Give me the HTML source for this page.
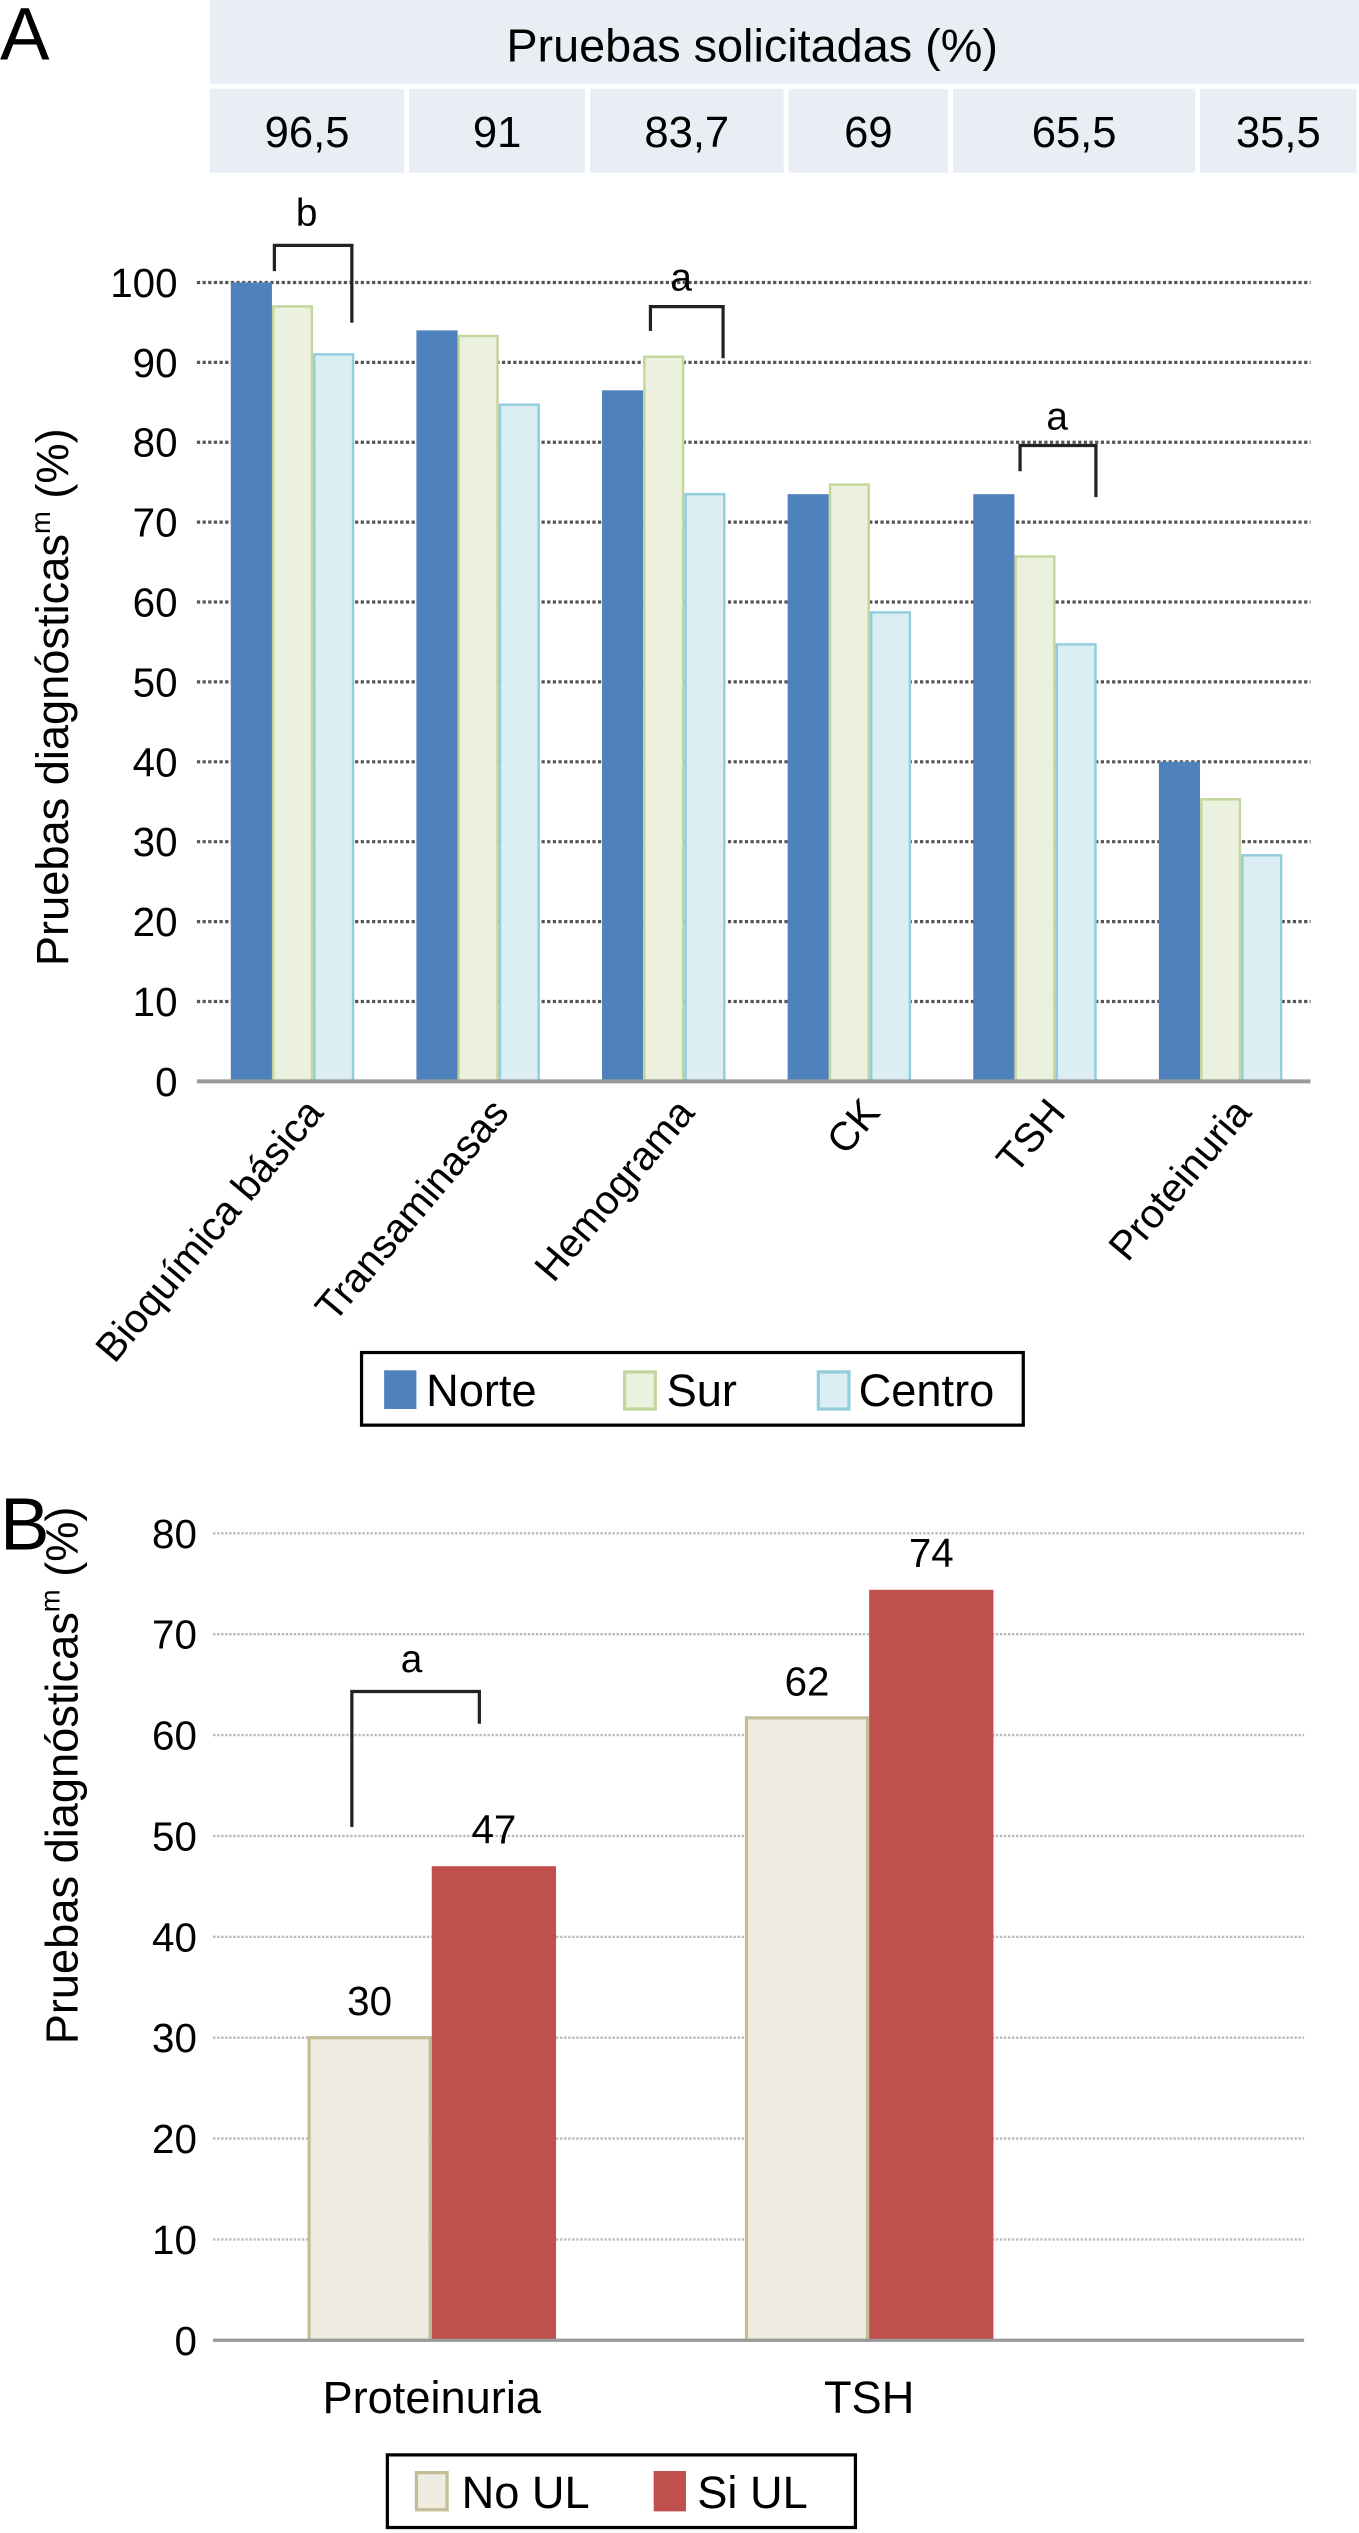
<!DOCTYPE html>
<html><head><meta charset="utf-8"><style>
html,body{margin:0;padding:0;background:#fff;}
svg{display:block;font-family:"Liberation Sans Narrow","Liberation Sans",sans-serif;}
</style></head><body>
<svg id="fig" width="1359" height="2533" viewBox="0 0 842 1569.4" preserveAspectRatio="none" xmlns="http://www.w3.org/2000/svg">
<text x="0" y="37" font-size="46">A</text>
<g>
<rect x="130" y="0" width="712" height="52" fill="#e8eef3"/>
<text x="466" y="38" font-size="29" text-anchor="middle">Pruebas solicitadas (%)</text>
<g id="tableCells"></g>
</g>
<g id="chartA"></g>
<text x="0" y="0" font-size="28" text-anchor="middle" transform="translate(42,432) rotate(-90)">Pruebas diagnósticas<tspan font-size="17" dy="-11">m</tspan><tspan dy="11"> (%)</tspan></text>
<g>
<rect x="224" y="838" width="410" height="45" fill="#fff" stroke="#000" stroke-width="2"/>
<rect x="238" y="849" width="20" height="24" fill="#4f81bd"/>
<text x="264" y="871" font-size="28">Norte</text>
<rect x="387" y="850" width="19" height="23" fill="#ebf1de" stroke="#c3d69b" stroke-width="2"/>
<text x="413" y="871" font-size="28">Sur</text>
<rect x="507" y="850" width="19" height="23" fill="#dbeef4" stroke="#93cddd" stroke-width="2"/>
<text x="532" y="871" font-size="28">Centro</text>
</g>
<text x="0" y="960" font-size="46">B</text>
<g id="chartB"></g>
<text x="0" y="0" font-size="28" text-anchor="middle" transform="translate(48,1100) rotate(-90)">Pruebas diagnósticas<tspan font-size="17" dy="-11">m</tspan><tspan dy="11"> (%)</tspan></text>
<g>
<rect x="240" y="1521" width="290" height="45" fill="#fff" stroke="#000" stroke-width="2"/>
<rect x="258" y="1532" width="19" height="23" fill="#eeece1" stroke="#c4bd97" stroke-width="2"/>
<text x="286" y="1554" font-size="28">No UL</text>
<rect x="405" y="1531" width="20" height="25" fill="#c0504d"/>
<text x="432" y="1554" font-size="28">Si UL</text>
</g>
</svg>
<script>
const NS="http://www.w3.org/2000/svg";
const tableValues=["96,5","91","83,7","69","65,5","35,5"];
const categoriesA=["Bioquímica básica","Transaminasas","Hemograma","CK","TSH","Proteinuria"];
const norte=[100,94,86.5,73.5,73.5,40];
const sur=[97,93.3,90.7,74.7,65.7,35.3];
const centro=[91,84.7,73.5,58.7,54.7,28.3];
const ticksA=[0,10,20,30,40,50,60,70,80,90,100];
const categoriesB=["Proteinuria","TSH"];
const noUL=[30,61.7];
const siUL=[47,74.4];
const labelsNoUL=["30","62"];
const labelsSiUL=["47","74"];
const ticksB=[0,10,20,30,40,50,60,70,80];

function mk(parent,tag,attrs){const e=document.createElementNS(NS,tag);for(const k in attrs)e.setAttribute(k,attrs[k]);parent.appendChild(e);return e;}

const tc=document.getElementById('tableCells');
const cellEdges=[130,252,364,487,589,742,842];
tableValues.forEach((v,i)=>{
  const x0=cellEdges[i]+(i?1.5:0), x1=cellEdges[i+1]-1.5;
  const r=mk(tc,'rect',{x:x0,y:55,width:x1-x0,height:52,fill:'#e8eef3'});
  
  
  const t=mk(tc,'text',{x:(x0+x1)/2,y:91,'font-size':27,'text-anchor':'middle'});
  t.textContent=v;
  
  
});

const A=document.getElementById('chartA');
const ax0=122, ax1=812, ay0=670, ayTop=175;
const yA=v=>ay0-(v/100)*(ay0-ayTop);
const band=(ax1-ax0)/categoriesA.length;
ticksA.forEach(t=>{
  if(t>0){const g=mk(A,'line',{x1:ax0,x2:ax1,y1:yA(t),y2:yA(t),stroke:'#555','stroke-width':2,'stroke-dasharray':'2 1.5'});
  }
  const l=mk(A,'text',{x:110,y:yA(t)+9,'font-size':25,'text-anchor':'end'});l.textContent=t;
  
});
const bw=25.5;
const seriesA=[[norte,'#4f81bd','none'],[sur,'#ebf1de','#c3d69b'],[centro,'#dbeef4','#93cddd']];
categoriesA.forEach((c,i)=>{
  const gx=ax0+i*band+21;
  seriesA.forEach((s,j)=>{
    const v=s[0][i];
    const r=mk(A,'rect',{x:gx+j*bw+(s[2]==='none'?0:0.75),y:yA(v),width:bw-(s[2]==='none'?0:1.5),height:ay0-yA(v),fill:s[1],stroke:s[2],'stroke-width':1.5});
    
    
  });
  const cx=gx+1.5*bw;
  const t=mk(A,'text',{x:0,y:0,'font-size':25,'text-anchor':'end',transform:`translate(${cx+20},${690}) rotate(-50)`});
  t.textContent=c;
  
  
});
const axA=mk(A,'line',{x1:ax0,x2:ax1,y1:ay0,y2:ay0,stroke:'#999','stroke-width':2.5});

[[170,218,152,168,200,'b',190,140],[403,448,190,205,222,'a',422,180],[632,679,276,292,308,'a',655,266]].forEach((b,k)=>{
  const p=mk(A,'path',{d:`M${b[0]},${b[3]}V${b[2]}H${b[1]}V${b[4]}`,fill:'none',stroke:'#222','stroke-width':2});
  
  const t=mk(A,'text',{x:b[6],y:b[7],'font-size':24,'text-anchor':'middle'});t.textContent=b[5];
  
});

const B=document.getElementById('chartB');
const bx0=132, bx1=808, by0=1450, byTop=950;
const yB=v=>by0-(v/80)*(by0-byTop);
ticksB.forEach(t=>{
  if(t>0){const g=mk(B,'line',{x1:bx0,x2:bx1,y1:yB(t),y2:yB(t),stroke:'#bbb','stroke-width':1.5,'stroke-dasharray':'1.5 1'});
  }
  const l=mk(B,'text',{x:122,y:yB(t)+9,'font-size':25,'text-anchor':'end'});l.textContent=t;
  
});
const bandB=271;
const bwB=77;
categoriesB.forEach((c,i)=>{
  const cx=bx0+bandB*(i+0.5);
  const r1=mk(B,'rect',{x:cx-bwB+1,y:yB(noUL[i]),width:bwB-2,height:by0-yB(noUL[i]),fill:'#eeece1',stroke:'#c4bd97','stroke-width':2});
  
  const r2=mk(B,'rect',{x:cx,y:yB(siUL[i]),width:bwB,height:by0-yB(siUL[i]),fill:'#c0504d'});
  
  const t1=mk(B,'text',{x:cx-bwB/2,y:yB(noUL[i])-14,'font-size':25,'text-anchor':'middle'});t1.textContent=labelsNoUL[i];
  
  const t2=mk(B,'text',{x:cx+bwB/2,y:yB(siUL[i])-14,'font-size':25,'text-anchor':'middle'});t2.textContent=labelsSiUL[i];
  
  const xl=mk(B,'text',{x:cx,y:1495,'font-size':28,'text-anchor':'middle'});xl.textContent=c;
  
});
const axB=mk(B,'line',{x1:bx0,x2:bx1,y1:by0,y2:by0,stroke:'#999','stroke-width':2});

const pb=mk(B,'path',{d:'M218,1132V1048H297V1068',fill:'none',stroke:'#222','stroke-width':2});

const tb=mk(B,'text',{x:255,y:1036,'font-size':24,'text-anchor':'middle'});tb.textContent='a';

</script>
</body></html>
